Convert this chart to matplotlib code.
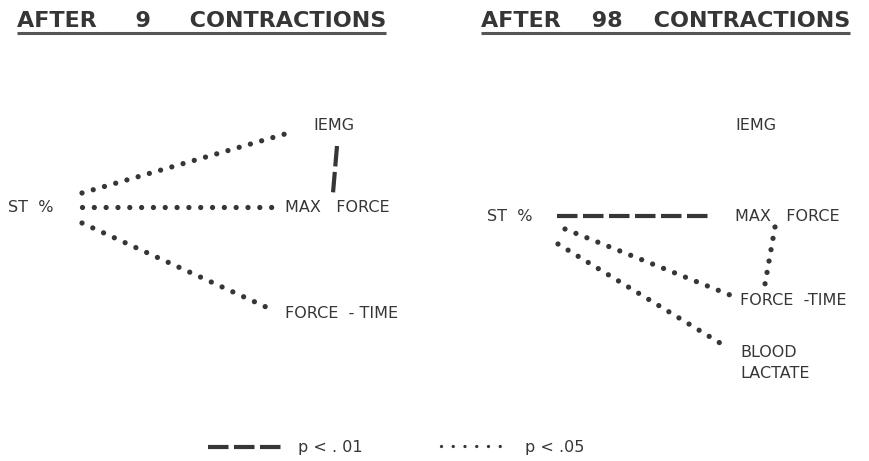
import math
import matplotlib
matplotlib.use("Agg")
import matplotlib.pyplot as plt

# ---- data ----
panel_titles = ["AFTER     9     CONTRACTIONS", "AFTER    98    CONTRACTIONS"]
nodes_9 = ["ST  %", "IEMG", "MAX   FORCE", "FORCE  - TIME"]
edges_9 = [("ST  %", "IEMG", "p<.05"), ("ST  %", "MAX   FORCE", "p<.05"),
           ("ST  %", "FORCE  - TIME", "p<.05"), ("IEMG", "MAX   FORCE", "p<.01")]
nodes_98 = ["ST  %", "IEMG", "MAX   FORCE", "FORCE  -TIME", "BLOOD\nLACTATE"]
edges_98 = [("ST  %", "MAX   FORCE", "p<.01"), ("ST  %", "FORCE  -TIME", "p<.05"),
            ("ST  %", "BLOOD\nLACTATE", "p<.05"), ("MAX   FORCE", "FORCE  -TIME", "p<.05")]
legend_labels = ["p < . 01", "p < .05"]

# ---- layout (pixel coordinates) ----
ink = "#363636"
label_pos_9 = {"ST  %": (8, 207), "IEMG": (313, 125), "MAX   FORCE": (285, 207),
               "FORCE  - TIME": (285, 313)}
label_pos_98 = {"ST  %": (487, 216), "IEMG": (735, 125), "MAX   FORCE": (735, 216),
                "FORCE  -TIME": (740, 300), "BLOOD\nLACTATE": (740, 363)}
edge_pts_9 = {("ST  %", "IEMG"): ((82, 193), (285, 134)),
              ("ST  %", "MAX   FORCE"): ((82, 207), (272, 207)),
              ("ST  %", "FORCE  - TIME"): ((82, 223), (266, 307)),
              ("IEMG", "MAX   FORCE"): ((337, 146), (333, 193))}
edge_pts_98 = {("ST  %", "MAX   FORCE"): ((557, 216), (710, 216)),
               ("ST  %", "FORCE  -TIME"): ((565, 229), (730, 295)),
               ("ST  %", "BLOOD\nLACTATE"): ((558, 244), (720, 343)),
               ("MAX   FORCE", "FORCE  -TIME"): ((775, 227), (765, 284))}

PX2PT = 72 / 100.0

fig = plt.figure(figsize=(8.7, 4.61), dpi=100)
ax = fig.add_axes([0, 0, 1, 1])
ax.set_xlim(0, 870)
ax.set_ylim(461, 0)
ax.axis("off")


def dotted(p0, p1, lw=3.8, spacing_px=12.0):
    (x0, y0), (x1, y1) = p0, p1
    L = math.hypot(x1 - x0, y1 - y0)
    n = max(1, round(L / spacing_px))
    gap_pt = (L / n) * PX2PT * 0.995
    ax.plot([x0, x1], [y0, y1], color=ink, lw=lw,
            linestyle=(0, (0.001, gap_pt / lw)), dash_capstyle="round")


def dashed(p0, p1, lw=3.0, dash_px=20.5, gap_px=5.5):
    (x0, y0), (x1, y1) = p0, p1
    ax.plot([x0, x1], [y0, y1], color=ink, lw=lw, solid_capstyle="butt",
            linestyle=(0, (dash_px * PX2PT / lw, gap_px * PX2PT / lw)),
            dash_capstyle="butt")


draw_edge = {"p<.01": dashed, "p<.05": dotted}
lab_font = dict(fontsize=11.5, color=ink, family="DejaVu Sans", fontweight="medium")


def draw_panel(nodes, edges, lpos, epos):
    for n in nodes:
        x, y = lpos[n]
        ax.text(x, y, n, ha="left", va="center", linespacing=1.55, **lab_font)
    for a, b, sig in edges:
        p0, p1 = epos[(a, b)]
        draw_edge[sig](p0, p1)


draw_panel(nodes_9, edges_9, label_pos_9, edge_pts_9)
draw_panel(nodes_98, edges_98, label_pos_98, edge_pts_98)

# titles with underline
title_x = [17, 481]
titles = []
for t, x in zip(panel_titles, title_x):
    titles.append(ax.text(x, 27, t, ha="left", va="baseline", fontsize=16,
                          fontweight="bold", color=ink, family="DejaVu Sans"))
fig.canvas.draw()
r = fig.canvas.get_renderer()
inv = ax.transData.inverted()
for t in titles:
    bb = t.get_window_extent(r)
    (xa, _), (xb, _) = inv.transform([(bb.x0, bb.y0), (bb.x1, bb.y0)])
    ax.plot([xa, xb], [33, 33], color="#555555", lw=2.2, solid_capstyle="butt")

# legend
dashed((208, 447), (282, 447))
ax.text(298, 447, legend_labels[0], ha="left", va="center", **lab_font)
dotted((441, 446), (500, 446), lw=2.4, spacing_px=12.0)
ax.text(525, 447, legend_labels[1], ha="left", va="center", **lab_font)

fig.savefig("out.png", dpi=100, facecolor="white")
